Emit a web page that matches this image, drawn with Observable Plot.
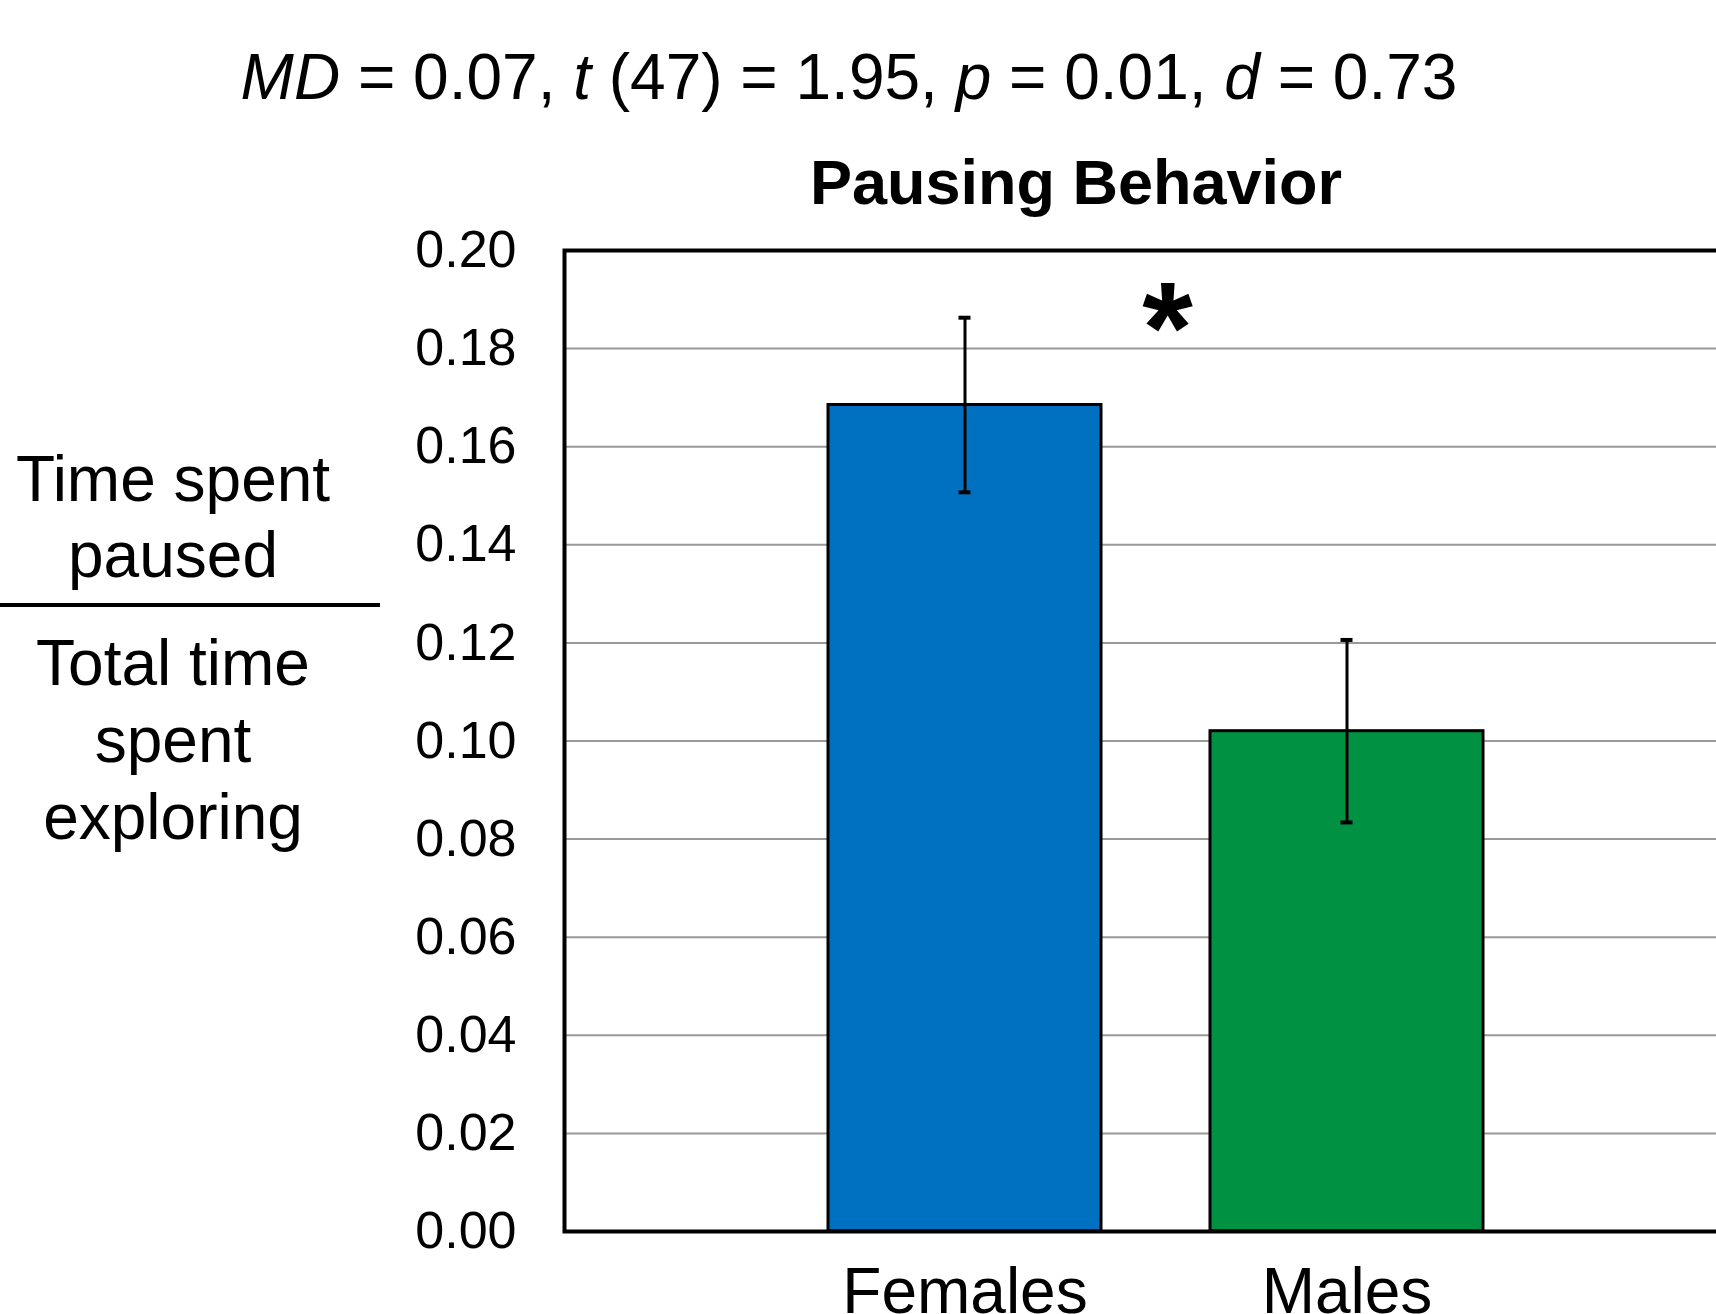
<!DOCTYPE html>
<html>
<head>
<meta charset="utf-8">
<script src="https://cdn.jsdelivr.net/npm/d3@7"></script>
<script src="https://cdn.jsdelivr.net/npm/@observablehq/plot@0.6"></script>
<style>
  html, body { margin: 0; padding: 0; overflow: hidden; background: #fff; }
  #wrap { position: relative; width: 1716px; height: 1314px; overflow: hidden;
          font-family: "Liberation Sans", Arial, sans-serif; color: #000; }
  #chart { position: absolute; left: 0; top: 0; }
  .abs { position: absolute; white-space: nowrap; line-height: 1; transform: translateX(-50%); }
  .stats { font-size: 64px; left: 849px; top: 44.8px; }
  .title { font-size: 63px; font-weight: bold; left: 1076px; top: 150.7px; }
  .ylab { font-size: 64px; left: 173px; }
  .rule { position: absolute; left: 0; top: 603px; width: 380px; height: 4px; background: #000; }
</style>
</head>
<body>
<div id="wrap">
  <div id="chart"></div>
  <div class="abs stats"><i>MD</i> = 0.07, <i>t</i> (47) = 1.95, <i>p</i> = 0.01, <i>d</i> = 0.73</div>
  <div class="abs title">Pausing Behavior</div>
  <div class="abs ylab" style="top:446.8px">Time spent</div>
  <div class="abs ylab" style="top:522.8px">paused</div>
  <div class="rule"></div>
  <div class="abs ylab" style="top:630.8px">Total time</div>
  <div class="abs ylab" style="top:707.8px">spent</div>
  <div class="abs ylab" style="top:784.8px">exploring</div>
</div>
<script>
// ---- data ----
const groups = ["Females", "Males"];
const means = [0.1685, 0.1020];
const errors = [0.0178, 0.0186];
const barColors = ["#0070C0", "#009242"];
const yTicks = [0.00, 0.02, 0.04, 0.06, 0.08, 0.10, 0.12, 0.14, 0.16, 0.18, 0.20];
const sigMarker = [{label: "*", y: 0.175}];

const data = groups.map((g, i) => ({
  group: g, mean: means[i], lo: means[i] - errors[i], hi: means[i] + errors[i]
}));

const chart = Plot.plot({
  width: 1716,
  height: 1330,
  marginTop: 250,
  marginBottom: 99,
  marginLeft: 564,
  marginRight: -30,
  style: {fontFamily: '"Liberation Sans", Arial, sans-serif', color: "black", background: "transparent", overflow: "hidden"},
  x: {domain: groups, paddingInner: 0.2863, paddingOuter: 0.688, axis: null},
  y: {domain: [0, 0.2], axis: null},
  color: {domain: groups, range: barColors},
  marks: [
    Plot.ruleY(yTicks.filter(v => v > 0 && v < 0.2), {stroke: "#999", strokeWidth: 2}),
    Plot.barY(data, {x: "group", y: "mean", fill: "group", stroke: "black", strokeWidth: 3}),
    Plot.frame({stroke: "black", strokeWidth: 4}),
    Plot.ruleX(data, {x: "group", y1: "lo", y2: "hi", stroke: "black", strokeWidth: 3}),
    Plot.tickY(data, {x: "group", y: "hi", stroke: "black", strokeWidth: 4, insetLeft: 130.5, insetRight: 130.5}),
    Plot.tickY(data, {x: "group", y: "lo", stroke: "black", strokeWidth: 4, insetLeft: 130.5, insetRight: 130.5}),
    Plot.axisY({ticks: yTicks, tickFormat: d3.format(".2f"), tickSize: 0, tickPadding: 48, fontSize: 52, label: null}),
    Plot.axisX({tickSize: 0, tickPadding: 36, fontSize: 64, label: null}),
    Plot.text(sigMarker, {text: "label", y: "y", dx: 12, fontSize: 130, fontWeight: "bold", lineAnchor: "bottom", fill: "black"})
  ]
});
document.getElementById("chart").appendChild(chart);
</script>
</body>
</html>
